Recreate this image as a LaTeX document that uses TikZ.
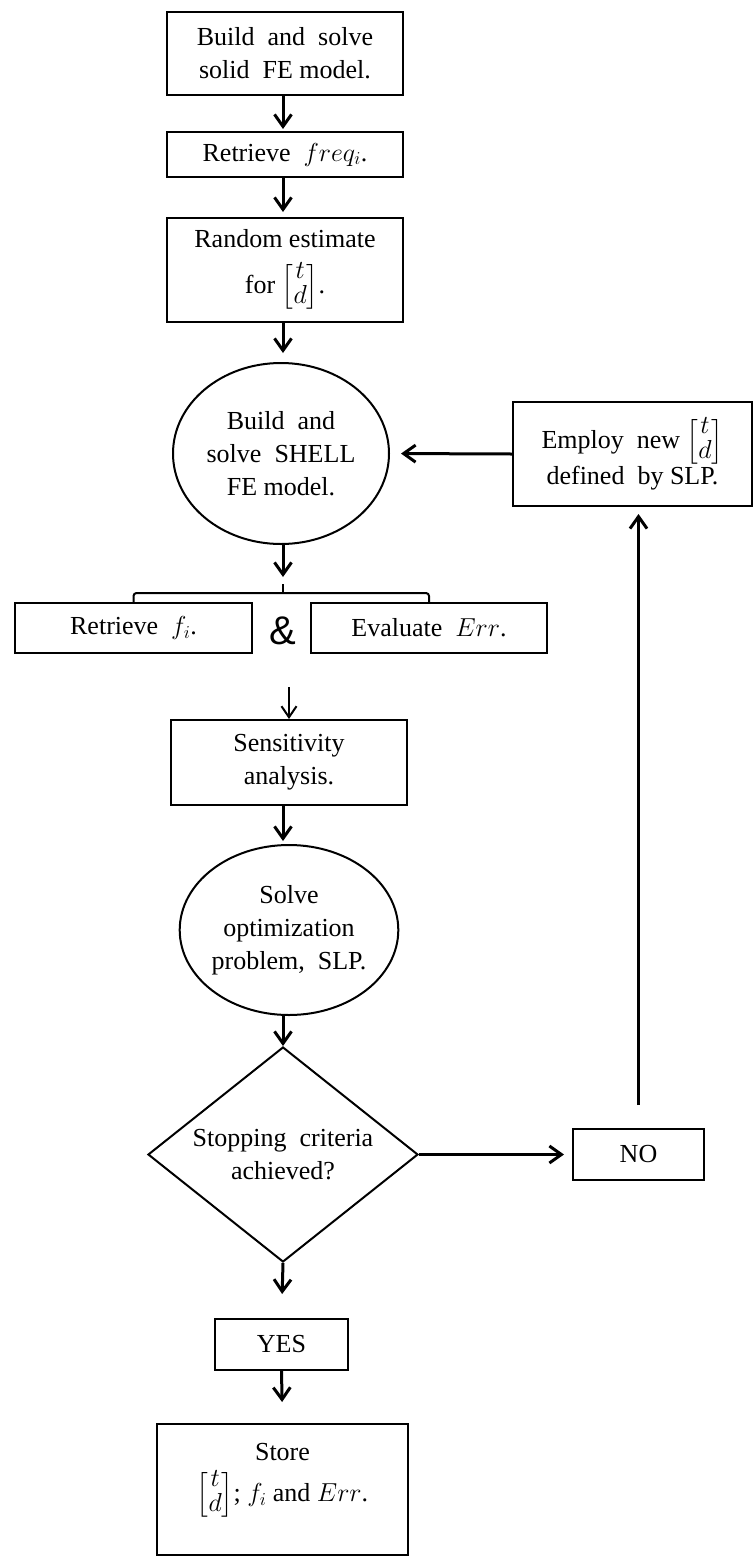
\RequirePackage{fix-cm}
\documentclass[tikz,border=0pt]{standalone}
\usepackage{amsmath}
\usepackage{fontspec}
\setmainfont{Liberation Serif}
\newfontfamily\ampfont{Liberation Sans}
\usetikzlibrary{arrows.meta,shapes.geometric}
\newcommand\tdvec{{\renewcommand{\arraystretch}{0.7}\delimiterfactor=820\delimitershortfall=6pt\left[\begin{matrix}t\\d\end{matrix}\right]}}
\begin{document}
\begin{tikzpicture}[x=1pt,y=-1pt,
  every node/.style={font=\fontsize{26}{33}\selectfont},
  box/.style={draw, line width=2pt, rectangle, inner sep=0pt, align=center},
  ell/.style={draw, line width=2pt, ellipse, inner sep=0pt, align=center},
  dia/.style={draw, line width=2pt, diamond, shape aspect=1.256, inner sep=0pt, align=center},
  arr/.style={-{Straight Barb[length=12pt,width=17pt]}, line width=3pt},
  thinarr/.style={-{Straight Barb[length=11pt,width=15pt]}, line width=2pt},
  brace/.style={line width=2pt, rounded corners=3pt}
]
\useasboundingbox (0,0) rectangle (754,1558);

\node[box, minimum width=236pt, minimum height=83pt] (b1) at (285,53.5) {Build~ and~ solve\\solid~ FE model.};
\node[box, minimum width=236pt, minimum height=45pt] (b2) at (285,154.5) {Retrieve~ $freq_i$.};
\node[box, minimum width=236pt, minimum height=104pt] (b3) at (285,270) {Random estimate\\[13pt]for $\tdvec$.};
\node[ell, minimum width=216pt, minimum height=181pt] (e1) at (281,453.5) {Build~ and\\solve~ SHELL\\FE model.};
\node[box, minimum width=239pt, minimum height=104pt] (emp) at (632.5,454) {Employ~ new $\tdvec$\\defined~ by SLP.};
\node[box, minimum width=237pt, minimum height=50pt] (ret) at (133.5,628) {Retrieve~ $f_i$.};
\node[box, minimum width=236pt, minimum height=50pt] (eva) at (429,628) {Evaluate~ $Err$.};
\node[anchor=base, font=\ampfont\fontsize{40}{40}\selectfont, inner sep=0pt] (amp) at (283,644) {\&};
\node[box, minimum width=236pt, minimum height=85pt] (sens) at (289,762.5) {Sensitivity\\analysis.};
\node[ell, minimum width=214pt, minimum height=170pt] (e2) at (289,930) {Solve\\optimization\\problem,~ SLP.};
\node[dia, minimum width=270pt, minimum height=215pt] (dm) at (283,1154.5) {Stopping~ criteria\\achieved?};
\node[box, minimum width=131pt, minimum height=51pt] (no) at (638.5,1154.5) {NO};
\node[box, minimum width=133pt, minimum height=51pt] (yes) at (281.5,1344.5) {YES};
\node[box, minimum width=251pt, minimum height=131pt] (store) at (282.5,1489.5) {};
\node[align=center, inner sep=0pt] (storetxt) at (282.5,1481) {Store\\[8pt]$\tdvec$; $f_i$ and $Err$.};

\coordinate (brk) at (283,593);
\coordinate (sin) at (289,687);

\draw[arr, shorten >=2pt] (b1.south -| dm.north) -- (b2.north -| dm.north);
\draw[arr, shorten >=5pt] (b2.south -| dm.north) -- (b3.north -| dm.north);
\draw[arr, shorten >=9pt] (b3.south -| dm.north) -- (e1.north -| dm.north);
\draw[arr, shorten >=11pt] (emp.west) -- (e1.east);
\draw[arr, shorten >=16pt] (e1.south -| brk) -- (brk);
\draw[brace] (ret.north) -- (ret.north |- brk) -- (eva.north |- brk) -- (eva.north);
\draw[line width=2pt] (brk) -- ++(0,-9);
\draw[thinarr] (sin) -- (sens.north -| sin);
\draw[arr, shorten >=3pt] (sens.south -| dm.north) -- (e2.north -| dm.north);
\draw[arr] (e2.south -| dm.north) -- (dm.north);
\draw[arr, shorten >=8pt] (dm.east) -- (no.west);
\draw[arr, shorten <=23pt, shorten >=7pt] (no.north) -- (no.north |- emp.south);
\draw[arr, shorten >=24pt] (dm.south) -- (yes.north);
\draw[arr, shorten >=21pt] (yes.south) -- (store.north);
\end{tikzpicture}
\end{document}
